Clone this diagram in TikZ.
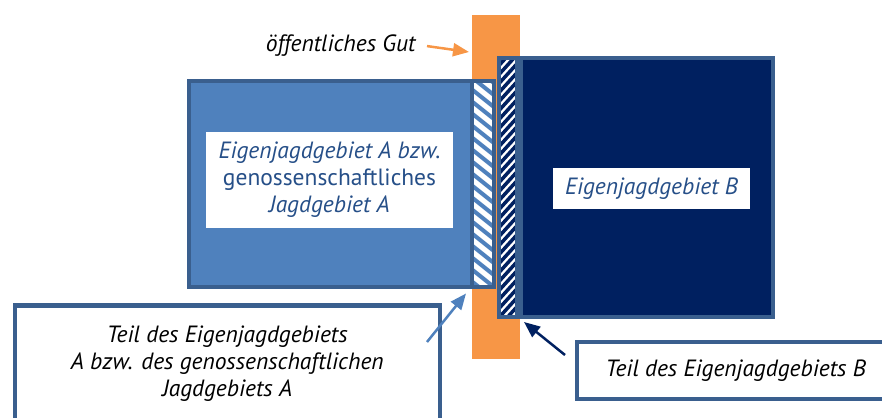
\documentclass[tikz,border=0pt]{standalone}
\usepackage{fontspec}
\setmainfont{PT Sans}
\usetikzlibrary{arrows.meta,positioning,calc}

\definecolor{gutorange}{HTML}{F79646}
\definecolor{blueA}{HTML}{4F81BD}
\definecolor{navyB}{HTML}{002060}
\definecolor{frameblue}{HTML}{3A5F8E}
\definecolor{labelblue}{HTML}{264F88}

\begin{document}
\begin{tikzpicture}[x=1pt, y=-1pt,
        area/.style={draw=frameblue, line width=4pt, inner sep=0pt, anchor=north west},
        hatchA/.style={path picture={
            \foreach \k in {-4,...,20}
                \draw[blueA, line width=4pt] ($(path picture bounding box.north west)+(-10,12*\k)$) -- ++(40,32);
        }},
        hatchB/.style={path picture={
            \foreach \k in {0,...,34}
                \draw[navyB, line width=3.5pt] ($(path picture bounding box.north west)+(-10,9*\k)$) -- ++(40,-44);
        }},
        namebox/.style={fill=white, inner sep=0pt, align=center, text=labelblue,
            font=\fontsize{23.5}{27}\selectfont\itshape},
        notebox/.style={draw=frameblue, line width=4.5pt, fill=white, inner sep=0pt, align=center,
            font=\fontsize{23.5}{27}\selectfont\itshape},
        pointer/.style={-{Triangle[length=16pt, width=13pt]}, line width=2.5pt}
    ]
    \clip (0,0) rectangle (882,417);

    % oeffentliches Gut
    \node[area, draw=none, fill=gutorange, minimum width=48, minimum height=344] (gut) at (470,13) {};
    \node[anchor=base east, font=\fontsize{23.5}{27}\selectfont\itshape] (gutlabel) at (419,52) {öffentliches Gut};

    % Gebiet A
    \node[area, fill=blueA, minimum width=283.5, minimum height=205] (areaA) at (186.5,79.5) {};
    \node[area, fill=white, hatchA, minimum width=22, minimum height=205] (stripA) at (470,79.5) {};
    \node[namebox, minimum width=247, minimum height=96] (nameA) at (329.5,180)
        {Eigenjagdgebiet A bzw.\\{\upshape genossenschaftliches}\\Jagdgebiet A};

    % Gebiet B
    \node[area, fill=white, hatchB, minimum width=18, minimum height=258.5] (stripB) at (497,56.5) {};
    \node[area, fill=navyB, minimum width=251.5, minimum height=258.5] (areaB) at (519,56.5) {};
    \node[namebox, minimum width=197, minimum height=41] (nameB) at (651.5,188.5) {Eigenjagdgebiet B};

    % Erlaeuterungen
    \node[notebox, minimum width=425, minimum height=116, anchor=north west] (noteA) at (12.5,303)
        {Teil des Eigenjagdgebiets\\A bzw. des genossenschaftlichen\\Jagdgebiets A};
    \node[notebox, minimum width=318, minimum height=57, anchor=north west] (noteB) at (574.5,339.5)
        {Teil des Eigenjagdgebiets B};

    \coordinate (tailA) at (427,342);
    \coordinate (tipA) at ($(stripA.south west)+(-4,5)$);
    \coordinate (tailB) at (565,355);
    \coordinate (tipB) at ($(stripB.south east)+(5,3)$);
    \coordinate (gutTip) at (469,52);

    \draw[pointer, gutorange] ([xshift=8pt]gutlabel.east) -- (gutTip);
    \draw[pointer, blueA] (tailA) -- (tipA);
    \draw[pointer, navyB] (tailB) -- (tipB);
\end{tikzpicture}
\end{document}
